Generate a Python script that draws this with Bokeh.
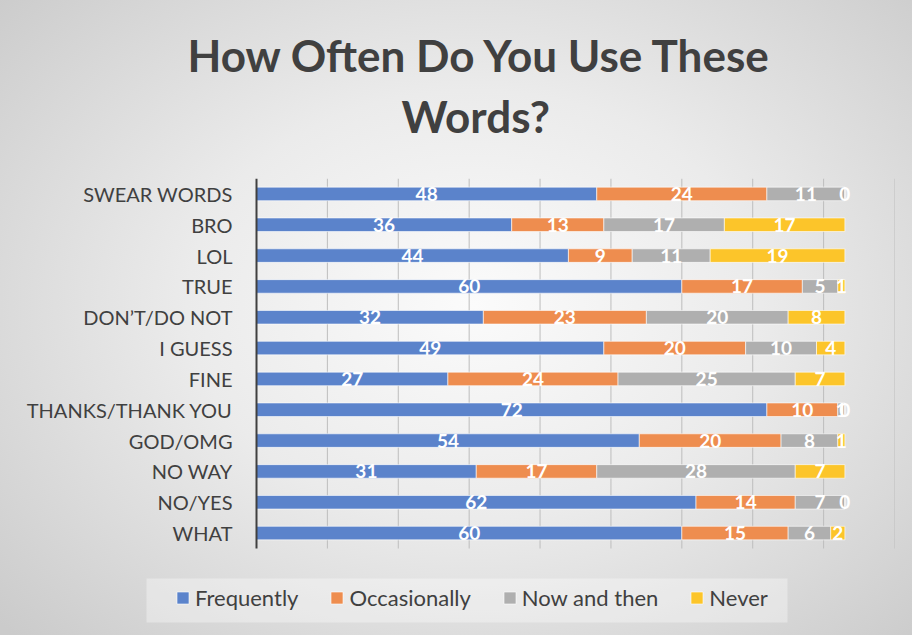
from bokeh.plotting import figure
from bokeh.models import ColumnDataSource, Range1d, Legend, LegendItem, Title
from bokeh.core.properties import value
from bokeh.embed import file_html
from bokeh.resources import INLINE

categories = ["SWEAR WORDS", "BRO", "LOL", "TRUE", "DON\u2019T/DO NOT", "I GUESS", "FINE",
              "THANKS/THANK YOU", "GOD/OMG", "NO WAY", "NO/YES", "WHAT"]
frequently = [48, 36, 44, 60, 32, 49, 27, 72, 54, 31, 62, 60]
occasionally = [24, 13, 9, 17, 23, 20, 24, 10, 20, 17, 14, 15]
now_and_then = [11, 17, 11, 5, 20, 10, 25, 1, 8, 28, 7, 6]
never = [0, 17, 19, 1, 8, 4, 7, 0, 1, 7, 0, 2]
series_names = ["Frequently", "Occasionally", "Now and then", "Never"]
x_ticks = [10, 20, 30, 40, 50, 60, 70, 80, 90]
title_lines = ["How Often Do You Use These", "Words?"]

colors = ["#5B83CB", "#EE8D4F", "#AFAFAF", "#FCC52A"]
FONT = "Lato"
DARK = "#404040"

n = len(categories)
ypos = [n - 1 - i for i in range(n)]          # top category highest
top_y = n - 0.5
bot_y = -0.5

# layout geometry (pixels): frame spans x 20..894, y 178..630
PX_PER_X = 638 / 90.0
PX_PER_Y = 370 / n
x_start = -(256 - 20) / PX_PER_X
y_start = top_y - 452 / PX_PER_Y

p = figure(frame_width=874, frame_height=452,
           x_range=Range1d(x_start, 90), y_range=Range1d(y_start, top_y),
           x_axis_type=None, y_axis_type=None,
           output_backend="svg", toolbar_location=None,
           min_border_left=20, min_border_right=18,
           min_border_top=178, min_border_bottom=5)

p.background_fill_alpha = 0
p.border_fill_alpha = 0
p.outline_line_color = None
p.xgrid.visible = False
p.ygrid.visible = False
p.styles = {"background": "radial-gradient(ellipse 70% 75% at 52% 48%, #fbfbfb 0%, #ebebeb 45%, #cbcbcb 100%)"}

# vertical gridlines
p.segment(x0=x_ticks, x1=x_ticks, y0=[bot_y] * len(x_ticks), y1=[top_y] * len(x_ticks),
          line_color="#bdbdbd", line_width=1)

series = [frequently, occasionally, now_and_then, never]
left = [0] * n
items = []
for name, vals, col in zip(series_names, series, colors):
    right = [l + v for l, v in zip(left, vals)]
    mid = [(l + r) / 2 for l, r in zip(left, right)]
    src = ColumnDataSource(dict(y=ypos, left=left, right=right, mid=mid,
                                lbl=[str(v) for v in vals]))
    r = p.hbar(y="y", left="left", right="right", height=0.44, source=src,
               fill_color=col, line_color="white", line_alpha=0.6, line_width=1)
    items.append(LegendItem(label=name, renderers=[r]))
    left = right
    p.text(x="mid", y="y", text="lbl", source=src, text_align="center",
           text_baseline="middle", text_color="white", text_font=value(FONT),
           text_font_style="bold", text_font_size="19px")

# category axis: line and labels
p.segment(x0=[0], x1=[0], y0=[bot_y], y1=[top_y], line_color=DARK, line_width=2)
label_x = -(256 - 232) / PX_PER_X
p.text(x=[label_x] * n, y=ypos, text=categories, text_align="right",
       text_baseline="middle", text_color=DARK, text_font=value(FONT),
       text_font_size="20px")

# titles
p.title = None
spacer = Title(text=" ", text_font_size="25px", standoff=0)
t2 = Title(text=title_lines[1], align="left", offset=381, text_font=FONT,
           text_font_style="bold", text_font_size="44px", text_color=DARK, standoff=14)
t1 = Title(text=title_lines[0], align="left", offset=167, text_font=FONT,
           text_font_style="bold", text_font_size="44px", text_color=DARK, standoff=0)
p.add_layout(spacer, "above")
p.add_layout(t2, "above")
p.add_layout(t1, "above")

# legend box (slightly lighter panel)
box_l = (146 - 256) / PX_PER_X
box_r = (787 - 256) / PX_PER_X
box_t = top_y - (578 - 178) / PX_PER_Y
box_b = top_y - (622 - 178) / PX_PER_Y
p.quad(left=[box_l], right=[box_r], top=[box_t], bottom=[box_b],
       fill_color="white", fill_alpha=0.35, line_color=None)

legend = Legend(items=items, orientation="horizontal", location=(155, 19),
                label_text_font=FONT, label_text_font_size="22px", label_text_color=DARK,
                glyph_width=15, glyph_height=15, label_standoff=5, spacing=31,
                padding=0, margin=0, background_fill_alpha=0,
                border_line_color=None)
p.add_layout(legend, "center")

open("out.html", "w").write(file_html(p, INLINE))
